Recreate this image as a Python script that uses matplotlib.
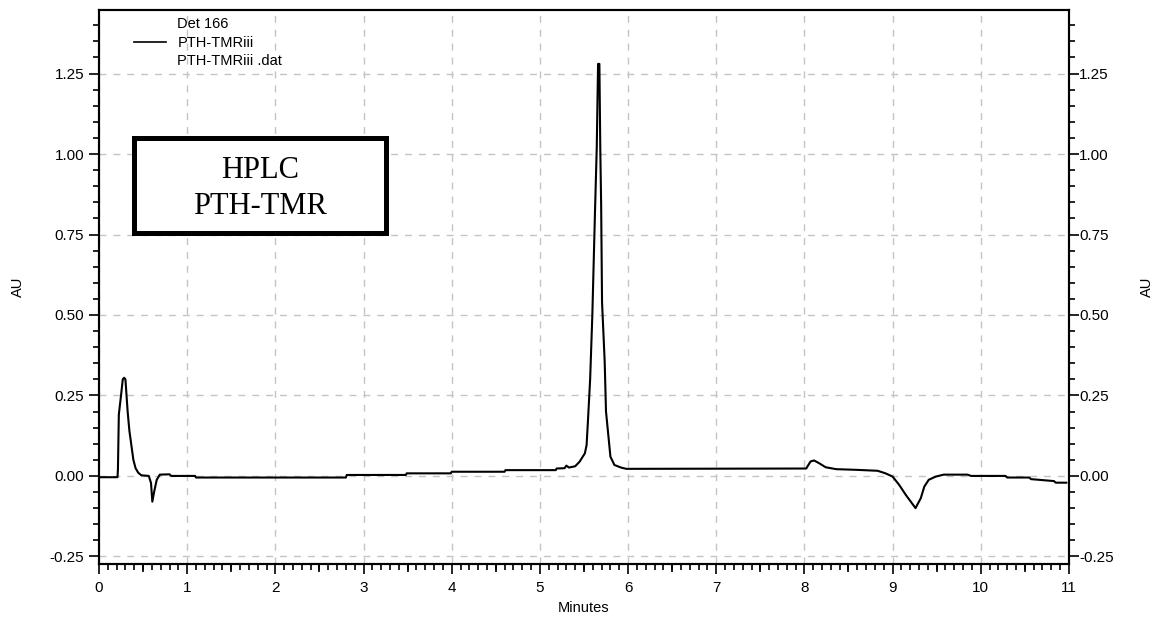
import numpy as np
import matplotlib
matplotlib.use("Agg")
from matplotlib import pyplot as plt
from matplotlib.lines import Line2D
from matplotlib.patches import Rectangle
from matplotlib.ticker import MultipleLocator, FixedLocator

# chromatogram trace (retention time in minutes, absorbance in AU)
minutes = [0.00, 0.21, 0.215, 0.225, 0.25, 0.27, 0.285, 0.30, 0.31, 0.325,
           0.345, 0.37, 0.39, 0.415, 0.445, 0.48, 0.565, 0.59, 0.605, 0.625,
           0.655, 0.69, 0.80, 0.82, 1.09, 1.10, 2.80, 2.81, 3.48, 3.49,
           3.99, 4.00, 4.60, 4.61, 5.18, 5.19, 5.28, 5.30, 5.33, 5.40,
           5.45, 5.51, 5.53, 5.545, 5.57, 5.595, 5.625, 5.645, 5.66, 5.675,
           5.685, 5.695, 5.705, 5.735, 5.75, 5.775, 5.80, 5.845, 5.92, 5.98,
           8.02, 8.07, 8.11, 8.17, 8.24, 8.36, 8.58, 8.83, 8.92, 9.00,
           9.075, 9.15, 9.26, 9.32, 9.36, 9.41, 9.49, 9.58, 9.85, 9.89,
           10.28, 10.30, 10.55, 10.57, 10.83, 10.85, 10.97]
au = [-0.004, -0.004, 0.02, 0.19, 0.25, 0.30, 0.305, 0.30, 0.26, 0.20,
      0.14, 0.09, 0.05, 0.024, 0.010, 0.002, 0.0, -0.022, -0.08, -0.05,
      -0.012, 0.004, 0.005, 0.0, 0.0, -0.005, -0.005, 0.003, 0.003, 0.008,
      0.008, 0.013, 0.013, 0.018, 0.018, 0.023, 0.024, 0.032, 0.026, 0.030,
      0.044, 0.07, 0.096, 0.17, 0.30, 0.50, 0.82, 1.02, 1.28, 1.28,
      1.02, 0.84, 0.54, 0.355, 0.20, 0.13, 0.06, 0.034, 0.026, 0.022,
      0.023, 0.045, 0.048, 0.039, 0.027, 0.021, 0.019, 0.016, 0.008, -0.002,
      -0.028, -0.059, -0.10, -0.069, -0.033, -0.012, -0.002, 0.004, 0.004, 0.0,
      0.0, -0.005, -0.005, -0.01, -0.016, -0.021, -0.021]

x_ticks = np.arange(0, 12, 1)
y_ticks = [-0.25, 0.0, 0.25, 0.50, 0.75, 1.00, 1.25]

plt.rcParams['font.family'] = ['Liberation Sans', 'DejaVu Sans']
plt.rcParams['font.size'] = 11

fig = plt.figure(figsize=(11.59, 6.21), dpi=100)
ax = fig.add_axes([0.0854, 0.0918, 0.8369, 0.8929])

ax.plot(minutes, au, color='black', lw=1.5, zorder=3)

ax.set_xlim(0, 11)
ax.set_ylim(-0.2736, 1.449)

# grid
for xv in x_ticks:
    ax.axvline(xv, color='#c4c4c4', lw=1, ls=(0, (5, 5)), zorder=1)
for yv in y_ticks:
    ax.axhline(yv, color='#c4c4c4', lw=1, ls=(0, (5, 5)), zorder=1)

ax.xaxis.set_major_locator(FixedLocator(x_ticks))
ax.xaxis.set_minor_locator(MultipleLocator(0.1))
ax.yaxis.set_major_locator(FixedLocator(y_ticks))
ax.yaxis.set_minor_locator(MultipleLocator(0.05))
ax.yaxis.set_major_formatter(lambda v, p: f"{v:.2f}")

ax.tick_params(axis='x', which='major', direction='out', length=7, width=1.2, pad=5)
ax.tick_params(axis='x', which='minor', direction='out', length=4, width=1.2)
ax.tick_params(axis='y', which='major', direction='out', length=7, width=1.2, pad=3.6)
ax.tick_params(axis='y', which='minor', direction='out', length=4, width=1.2)

# half-minute ticks
half = ax.secondary_xaxis('bottom')
half.set_xticks(np.arange(0.5, 11, 1))
half.tick_params(length=6, width=1.2, labelbottom=False)
half.spines['bottom'].set_visible(False)

for s in ax.spines.values():
    s.set_linewidth(1.5)

ax.set_xlabel('Minutes', fontsize=10.5)
ax.xaxis.set_label_coords(0.5, -0.067)
ax.set_ylabel('AU', fontsize=10.5)
ax.yaxis.set_label_coords(-0.076, 0.5)

# right-hand axis repeats the scale
ax2 = ax.twinx()
ax2.set_ylim(ax.get_ylim())
ax2.yaxis.set_major_locator(FixedLocator(y_ticks))
ax2.yaxis.set_minor_locator(MultipleLocator(0.05))
ax2.yaxis.set_major_formatter(lambda v, p: f"{v:.2f}")
ax2.tick_params(axis='y', which='major', direction='out', length=7, width=1.2, pad=0.5)
ax2.tick_params(axis='y', which='minor', direction='out', length=4, width=1.2)
ax2.set_ylabel('AU', fontsize=10.5)
ax2.yaxis.set_label_coords(1.073, 0.5)
for s in ax2.spines.values():
    s.set_linewidth(1.5)

# legend block in the upper left corner
blank = Line2D([], [], color='none')
trace = Line2D([], [], color='black', lw=1.2)
ax.legend([blank, trace, blank], ['Det 166', 'PTH-TMRiii', 'PTH-TMRiii .dat'],
          loc='upper left', bbox_to_anchor=(0.026, 1.004), frameon=False,
          handlelength=2.2, handletextpad=0.75, labelspacing=0.3,
          borderpad=0.2, fontsize=10.5)

# annotation box
ax.add_patch(Rectangle((0.0356, 0.597), 0.2603, 0.172, transform=ax.transAxes,
                       facecolor='white', edgecolor='black', lw=3.6, zorder=4))
ax.text(0.166, 0.677, 'HPLC\nPTH-TMR', transform=ax.transAxes, ha='center',
        va='center', fontsize=22, family='Liberation Serif', linespacing=1.35,
        zorder=5)

fig.savefig('out.png', dpi=100)
